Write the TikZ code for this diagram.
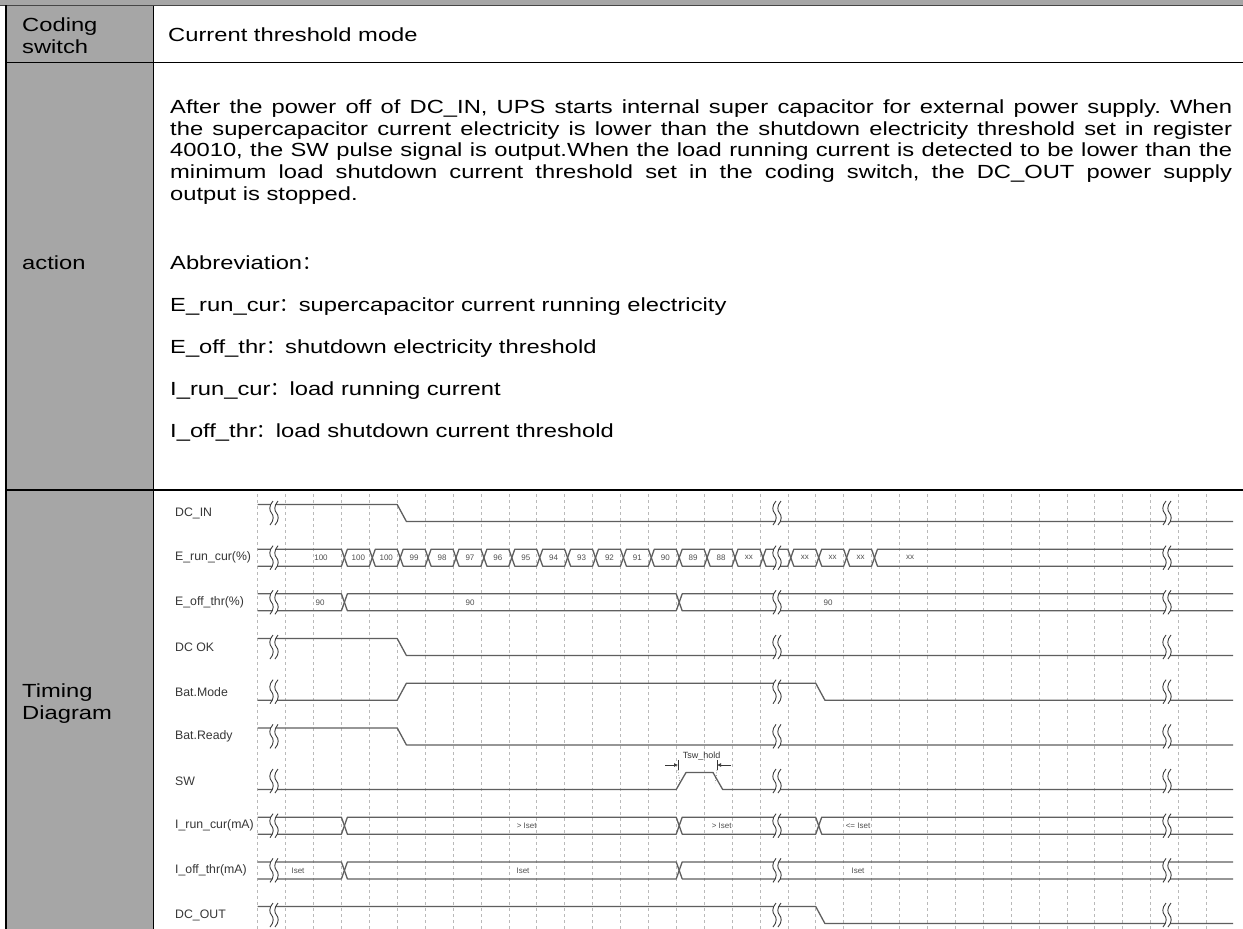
\documentclass[tikz,border=0pt]{standalone}
\usepackage{fontspec}
\setmainfont{Liberation Sans}
\newfontfamily\tbf[FakeStretch=1.25]{Liberation Sans}
\newfontfamily\cjk{Noto Sans CJK SC}
\usetikzlibrary{arrows.meta}
\frenchspacing
\definecolor{cellgray}{RGB}{166,166,166}
\definecolor{topline}{RGB}{70,70,70}
\definecolor{sigc}{RGB}{95,95,95}
\definecolor{brkc}{RGB}{60,60,60}
\definecolor{gridc}{RGB}{185,185,185}
\definecolor{lblc}{RGB}{55,55,55}
\definecolor{valc}{RGB}{80,80,80}
\tikzset{
  sig/.style={draw=sigc, line width=1.3pt, line join=round},
  gridline/.style={draw=gridc, line width=0.6pt, dash pattern=on 3pt off 3pt},
  tline/.style={draw=black, line width=1.3pt},
  maintext/.style={anchor=base west, inner sep=0pt, font=\tbf\fontsize{19}{22}\selectfont},
  siglabel/.style={anchor=west, inner sep=0pt, text=lblc, font=\fontsize{12.3}{14}\selectfont},
  val/.style={inner sep=0pt, text=valc, font=\fontsize{8}{9.5}\selectfont},
  brk/.pic={
    \fill[white] (-1,-12) .. controls (-5.5,-7) and (-4.5,-2) .. (-2.5,0) .. controls (-0.5,2) and (0.5,7) .. (-4,12)
       -- (1,12) .. controls (5.5,7) and (4.5,2) .. (2.5,0) .. controls (0.5,-2) and (-0.5,-7) .. (4,-12) -- cycle;
    \draw[brkc, line width=0.9pt] (-1,-12) .. controls (-5.5,-7) and (-4.5,-2) .. (-2.5,0) .. controls (-0.5,2) and (0.5,7) .. (-4,12);
    \draw[brkc, line width=0.9pt] (4,-12) .. controls (-0.5,-7) and (0.5,-2) .. (2.5,0) .. controls (4.5,2) and (5.5,7) .. (1,12);
  }
}
% hexagon bus segment: left tip, right tip, mid y
\newcommand\hexseg[3]{\draw[sig] ({#1},{#3}) -- ({#1+3},{#3-8.5}) -- ({#2-3},{#3-8.5}) -- ({#2},{#3}) -- ({#2-3},{#3+8.5}) -- ({#1+3},{#3+8.5}) -- cycle;}
\newcommand\hexstart[2]{\draw[sig] (257.7,{#2-8.5}) -- ({#1-3},{#2-8.5}) -- ({#1},{#2}) -- ({#1-3},{#2+8.5}) -- (257.7,{#2+8.5});}
\newcommand\hexend[2]{\draw[sig] (1233,{#2-8.5}) -- ({#1+3},{#2-8.5}) -- ({#1},{#2}) -- ({#1+3},{#2+8.5}) -- (1233,{#2+8.5});}
\begin{document}
\begin{tikzpicture}[x=1pt,y=-1pt]
\useasboundingbox (0,0) rectangle (1243,929);
\fill[white] (0,0) rectangle (1243,929);
% table
\fill[cellgray] (0,0) rectangle (1243,5);
\fill[cellgray] (6,5) rectangle (153.3,929);
\draw[line width=1.6pt, topline] (0,5.5) -- (1243,5.5);
\draw[tline] (6,5) -- (6,929);
\draw[tline] (153.3,5.5) -- (153.3,929);
\draw[tline] (6,62.3) -- (1243,62.3);
\draw[tline] (6,490) -- (1243,490);

% row 1
\node[maintext] (c1a) at (22,31) {Coding};
\node[maintext] (c1b) at (22,53) {switch};
\node[maintext] (c1v) at (168,41) {Current threshold mode};
% row 2
\node[maintext] (c2) at (22,269) {action};
\node[maintext] (p1) at (170,113) {\makebox[1062pt][s]{After the power off of DC\_IN, UPS starts internal super capacitor for external power supply. When}};
\node[maintext] (p2) at (170,135) {\makebox[1062pt][s]{the supercapacitor current electricity is lower than the shutdown electricity threshold set in register}};
\node[maintext] (p3) at (170,156) {\makebox[1062pt][s]{40010, the SW pulse signal is output.When the load running current is detected to be lower than the}};
\node[maintext] (p4) at (170,178) {\makebox[1062pt][s]{minimum load shutdown current threshold set in the coding switch, the DC\_OUT power supply}};
\node[maintext] (p5) at (170,200) {output is stopped.};
\node[maintext] (a0) at (170,269) {Abbreviation{\cjk ：}};
\node[maintext] (a1) at (170,311) {E\_run\_cur{\cjk ：}supercapacitor current running electricity};
\node[maintext] (a2) at (170,353) {E\_off\_thr{\cjk ：}shutdown electricity threshold};
\node[maintext] (a3) at (170,395) {I\_run\_cur{\cjk ：}load running current};
\node[maintext] (a4) at (170,437) {I\_off\_thr{\cjk ：}load shutdown current threshold};
% row 3
\node[maintext] (c3a) at (22,697) {Timing};
\node[maintext] (c3b) at (22,719) {Diagram};

% grid
\foreach \i in {0,...,34} \draw[gridline] ({257.7+27.9*\i},494) -- ({257.7+27.9*\i},929);

% labels
\node[siglabel] (l0) at (175,513) {DC\_IN};
\node[siglabel] (l1) at (175,557.7) {E\_run\_cur(\%)};
\node[siglabel] (l2) at (175,602.3) {E\_off\_thr(\%)};
\node[siglabel] (l3) at (175,647) {DC OK};
\node[siglabel] (l4) at (175,691.7) {Bat.Mode};
\node[siglabel] (l5) at (175,736.4) {Bat.Ready};
\node[siglabel] (l6) at (175,781) {SW};
\node[siglabel] (l7) at (175,825.7) {I\_run\_cur(mA)};
\node[siglabel] (l8) at (175,870.4) {I\_off\_thr(mA)};
\node[siglabel] (l9) at (175,915) {DC\_OUT};

% DC_IN
\draw[sig] (257.7,504.5) -- (397.2,504.5) -- (406.4,521.5) -- (1233,521.5);
% E_run_cur
\hexstart{344.4}{557.7}
\foreach \i in {3,...,21} {\hexseg{260.7+27.9*\i}{260.7+27.9*(\i+1)}{557.7}}
\hexend{874.5}{557.7}
\node[val] (v0) at (321,557.7) {100};
\foreach \v [count=\c from 3] in {100,100,99,98,97,96,95,94,93,92,91,90,89,88,xx}
  \node[val] at ({260.7+27.9*\c+13.95},557.7) {\v};
\foreach \c in {19,20,21}
  \node[val] at ({260.7+27.9*\c+13.95},557.7) {xx};
\node[val] (v1) at (910,557.7) {xx};
% E_off_thr
\hexstart{344.4}{602.3}
\hexseg{344.4}{679.2}{602.3}
\hexend{679.2}{602.3}
\node[val] (v2) at (320,602.3) {90};
\node[val] (v3) at (470,602.3) {90};
\node[val] (v4) at (828,602.3) {90};
% DC OK
\draw[sig] (257.7,638.5) -- (397.2,638.5) -- (406.4,655.5) -- (1233,655.5);
% Bat.Mode
\draw[sig] (257.7,700.2) -- (397.2,700.2) -- (406.4,683.2) -- (815.7,683.2) -- (824.9,700.2) -- (1233,700.2);
% Bat.Ready
\draw[sig] (257.7,727.9) -- (397.2,727.9) -- (406.4,744.9) -- (1233,744.9);
% SW
\draw[sig] (257.7,789.5) -- (676.2,789.5) -- (686,772.5) -- (713,772.5) -- (722.7,789.5) -- (1233,789.5);
\node[inner sep=0pt, text=lblc, font=\fontsize{9}{10}\selectfont] (tsw) at (701.7,756.5) {Tsw\_hold};
\coordinate (ta1) at (665,765);
\coordinate (ta2) at (678,765);
\coordinate (tb1) at (731,765);
\coordinate (tb2) at (717,765);
\draw[lblc, line width=0.7pt, -{Latex[length=4pt,width=4pt]}] (ta1) -- (ta2);
\draw[lblc, line width=0.7pt, -{Latex[length=4pt,width=4pt]}] (tb1) -- (tb2);
\draw[lblc, line width=0.7pt] (678,760) -- (678,770);
\draw[lblc, line width=0.7pt] (717,760) -- (717,770);
\draw[lblc, line width=0.6pt, dotted] (678,770) -- (680,783);
\draw[lblc, line width=0.6pt, dotted] (717,770) -- (715,783);
% I_run_cur
\hexstart{344.4}{825.7}
\hexseg{344.4}{679.2}{825.7}
\hexseg{679.2}{818.7}{825.7}
\hexend{818.7}{825.7}
\node[val] (v5) at (526.7,825.7) {> Iset};
\node[val] (v6) at (721.7,825.7) {> Iset};
\node[val] (v7) at (858,825.7) {<= Iset};
% I_off_thr
\hexstart{344.4}{870.4}
\hexseg{344.4}{679.2}{870.4}
\hexend{679.2}{870.4}
\node[val] (v8) at (298,870.4) {Iset};
\node[val] (v9) at (523,870.4) {Iset};
\node[val] (v10) at (858,870.4) {Iset};
% DC_OUT
\draw[sig] (257.7,906.5) -- (815.7,906.5) -- (824.9,923.5) -- (1233,923.5);

% breaks
\foreach \y in {513,557.7,602.3,647,691.7,736.4,781,825.7,870.4,915}
  \foreach \x in {274,777,1167}
    \pic at (\x,\y) {brk};
\end{tikzpicture}
\end{document}
